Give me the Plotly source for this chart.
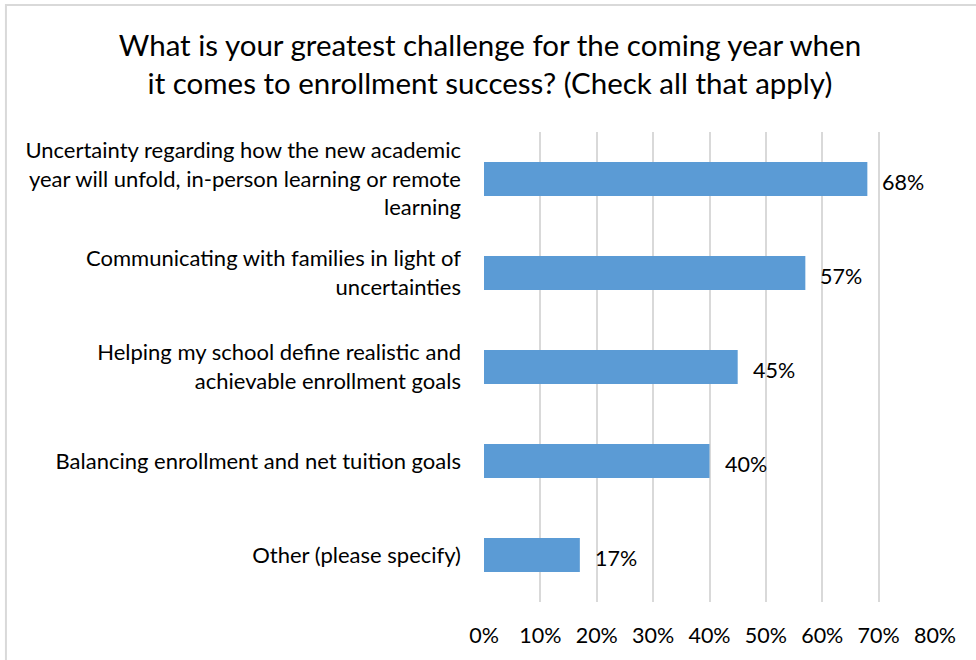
import plotly.graph_objects as go

categories = [
    "Uncertainty regarding how the new academic<br>year will unfold, in-person learning or remote<br>learning",
    "Communicating with families in light of<br>uncertainties",
    "Helping my school define realistic and<br>achievable enrollment goals",
    "Balancing enrollment and net tuition goals",
    "Other (please specify)",
]
values = [0.68, 0.57, 0.45, 0.40, 0.17]
labels = ["68%", "57%", "45%", "40%", "17%"]
tick_vals = [0, 0.1, 0.2, 0.3, 0.4, 0.5, 0.6, 0.7, 0.8]
tick_text = ["0%", "10%", "20%", "30%", "40%", "50%", "60%", "70%", "80%"]

FONT = "Lato, Carlito, Calibri, sans-serif"

fig = go.Figure()
fig.add_trace(go.Bar(
    x=values, y=categories, orientation="h",
    marker=dict(color="#5b9bd5", line=dict(width=0)),
    width=0.36,
))
for c, v, t in zip(categories, values, labels):
    fig.add_annotation(x=v, y=c, text=t, showarrow=False, xanchor="left",
                       xshift=13, yshift=-3, font=dict(size=21.5, color="#000000", family=FONT))

fig.add_shape(type="rect", xref="paper", yref="paper",
              x0=-1.06, x1=1.2, y0=-0.2, y1=1.27,
              line=dict(color="#d9d9d9", width=2), fillcolor="rgba(0,0,0,0)", layer="below")

fig.update_layout(
    width=976, height=660,
    margin=dict(l=484, r=41, t=132, b=54),
    paper_bgcolor="white", plot_bgcolor="white",
    showlegend=False,
    font=dict(family=FONT, color="#000000", size=22),
    title=dict(
        text="What is your greatest challenge for the coming year when<br>it comes to enrollment success? (Check all that apply)",
        x=0.502, xanchor="center", y=0.915, yanchor="middle",
        font=dict(size=29.5, family=FONT, color="#000000"),
    ),
    xaxis=dict(range=[0, 0.8], tickvals=tick_vals, ticktext=tick_text,
               showgrid=True, gridcolor="#d9d9d9", gridwidth=1.5,
               zeroline=False, showline=False, ticks="",
               ticklabelstandoff=18, tickfont=dict(size=21.5, family=FONT)),
    yaxis=dict(autorange="reversed", showgrid=False, zeroline=False, showline=False,
               ticks="", ticklabelstandoff=22, tickfont=dict(size=22, family=FONT)),
)

fig.write_html("out.html")
